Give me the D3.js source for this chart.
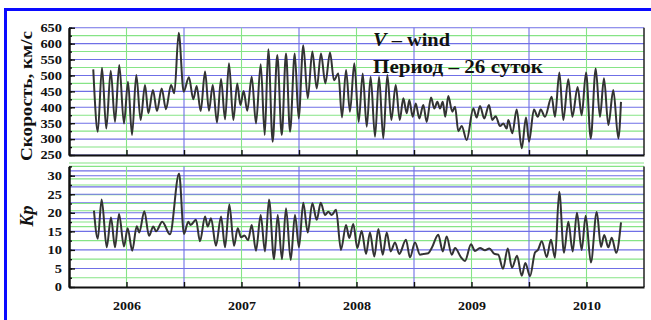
<!DOCTYPE html>
<html>
<head>
<meta charset="utf-8">
<script src="https://cdn.jsdelivr.net/npm/d3@7"></script>
<style>
  body { margin: 0; background: #fff; }
  svg { display: block; }
  text { font-family: "Liberation Serif", "Times New Roman", serif; font-weight: bold; fill: #111; }
</style>
</head>
<body>
<svg id="chart" width="651" height="320"></svg>
<script>
// Solar wind speed (km/s), smoothed with a 26-day period, sampled at turning points
const windTime = [
  2005.711, 2005.720, 2005.750, 2005.787, 2005.824, 2005.863, 2005.900, 2005.937, 2005.978, 2006.013,
  2006.048, 2006.085, 2006.123, 2006.161, 2006.190, 2006.230, 2006.265, 2006.306, 2006.343, 2006.387,
  2006.416, 2006.454, 2006.497, 2006.543, 2006.581, 2006.610, 2006.645, 2006.683, 2006.717, 2006.750,
  2006.787, 2006.822, 2006.857, 2006.891, 2006.929, 2006.963, 2006.990, 2007.019, 2007.050, 2007.089,
  2007.126, 2007.167, 2007.202, 2007.233, 2007.271, 2007.311, 2007.350, 2007.387, 2007.422, 2007.463,
  2007.497, 2007.537, 2007.576, 2007.616, 2007.654, 2007.691, 2007.729, 2007.770, 2007.804, 2007.842,
  2007.874, 2007.909, 2007.943, 2007.981, 2008.019, 2008.054, 2008.089, 2008.123, 2008.161, 2008.196,
  2008.233, 2008.268, 2008.303, 2008.341, 2008.376, 2008.407, 2008.437, 2008.459, 2008.489, 2008.515,
  2008.546, 2008.581, 2008.610, 2008.648, 2008.677, 2008.703, 2008.726, 2008.750, 2008.772, 2008.798,
  2008.833, 2008.857, 2008.885, 2008.915, 2008.958, 2009.016, 2009.045, 2009.074, 2009.111, 2009.152,
  2009.181, 2009.210, 2009.248, 2009.277, 2009.306, 2009.320, 2009.355, 2009.393, 2009.437, 2009.474,
  2009.500, 2009.543, 2009.576, 2009.602, 2009.639, 2009.697, 2009.726, 2009.764, 2009.798, 2009.842,
  2009.877, 2009.923, 2009.958, 2009.996, 2010.037, 2010.080, 2010.117, 2010.152, 2010.190, 2010.233,
  2010.277, 2010.300
];
const windSpeed = [
  519, 454, 323, 524, 333, 515, 354, 533, 349, 480,
  313, 501, 360, 470, 381, 454, 388, 459, 394, 470,
  444, 634, 449, 494, 425, 467, 388, 512, 389, 470,
  352, 489, 362, 538, 360, 475, 407, 451, 389, 496,
  349, 535, 313, 582, 292, 564, 313, 569, 323, 569,
  365, 595, 428, 575, 459, 569, 475, 572, 485, 506,
  368, 517, 386, 538, 354, 506, 339, 496, 307, 496,
  302, 501, 360, 470, 360, 428, 381, 423, 370, 412,
  365, 407, 354, 431, 396, 417, 396, 417, 370, 435,
  386, 402, 325, 341, 297, 396, 368, 404, 365, 407,
  360, 372, 341, 349, 333, 360, 318, 393, 271, 368,
  292, 393, 370, 393, 370, 433, 370, 509, 360, 488,
  370, 464, 375, 509, 302, 522, 370, 491, 344, 454,
  302, 417
];

// Kp index, same smoothing, sampled at turning points
const kpTime = [
  2005.717, 2005.750, 2005.784, 2005.828, 2005.865, 2005.900, 2005.935, 2005.978, 2006.010, 2006.050,
  2006.089, 2006.111, 2006.155, 2006.196, 2006.233, 2006.257, 2006.311, 2006.378, 2006.457, 2006.500,
  2006.537, 2006.558, 2006.604, 2006.639, 2006.683, 2006.706, 2006.735, 2006.778, 2006.822, 2006.857,
  2006.894, 2006.935, 2006.967, 2006.996, 2007.026, 2007.057, 2007.089, 2007.126, 2007.167, 2007.204,
  2007.239, 2007.283, 2007.315, 2007.352, 2007.387, 2007.428, 2007.465, 2007.500, 2007.537, 2007.576,
  2007.616, 2007.654, 2007.689, 2007.726, 2007.755, 2007.784, 2007.822, 2007.865, 2007.909, 2007.937,
  2007.972, 2008.007, 2008.045, 2008.083, 2008.117, 2008.155, 2008.190, 2008.228, 2008.263, 2008.297,
  2008.335, 2008.372, 2008.430, 2008.465, 2008.509, 2008.552, 2008.581, 2008.624, 2008.654, 2008.711,
  2008.750, 2008.784, 2008.828, 2008.857, 2008.909, 2008.943, 2008.996, 2009.030, 2009.074, 2009.117,
  2009.155, 2009.196, 2009.233, 2009.274, 2009.315, 2009.352, 2009.396, 2009.437, 2009.468, 2009.509,
  2009.552, 2009.578, 2009.611, 2009.654, 2009.691, 2009.726, 2009.763, 2009.804, 2009.842, 2009.880,
  2009.917, 2009.958, 2009.993, 2010.038, 2010.089, 2010.126, 2010.154, 2010.190, 2010.219, 2010.259,
  2010.300
];
const kpValue = [
  20.6, 13.0, 23.6, 10.7, 18.7, 10.7, 19.7, 10.9, 15.8, 9.8,
  16.4, 14.7, 20.4, 13.8, 16.3, 15.0, 17.6, 14.2, 30.6, 14.3,
  17.6, 16.7, 18.1, 12.3, 19.0, 16.3, 18.5, 11.1, 19.0, 10.7,
  22.2, 11.1, 15.8, 13.4, 13.9, 12.6, 16.7, 9.8, 19.4, 9.6,
  23.6, 7.5, 19.4, 7.5, 21.2, 7.3, 19.4, 10.7, 22.7, 14.7,
  22.6, 18.1, 22.7, 19.4, 20.3, 19.4, 20.8, 10.0, 16.7, 13.2,
  17.0, 10.5, 15.1, 8.9, 14.7, 8.2, 15.6, 8.7, 14.7, 9.6,
  12.0, 8.9, 12.7, 8.0, 12.0, 8.7, 8.9, 9.1, 10.5, 14.1,
  9.6, 13.6, 8.7, 10.5, 8.0, 7.0, 11.5, 9.7, 10.5, 9.9,
  10.4, 9.0, 8.7, 4.9, 10.4, 5.2, 8.4, 3.0, 6.5, 2.9,
  9.3, 10.0, 12.3, 8.1, 12.7, 7.9, 25.7, 9.2, 17.6, 9.6,
  20.0, 10.0, 19.2, 6.6, 20.2, 10.8, 14.0, 10.7, 13.3, 9.2,
  17.4
];

const years = [2006, 2007, 2008, 2009, 2010];
const speedTicks = [250, 300, 350, 400, 450, 500, 550, 600, 650];
const kpTicks = [0, 5, 10, 15, 20, 25, 30];

const svg = d3.select("#chart");
const W = 651, H = 320;

const BLUE_GRID = "#6f6fe6", GREEN_GRID = "#86e486";

const x = d3.scaleLinear().domain([2005.5, 2010.5]).range([69, 644]);
const yV = d3.scaleLinear().domain([250, 650]).range([155, 27.7]);
const yK = d3.scaleLinear().domain([0, 32.5]).range([287, 166.4]);

// page frame
svg.append("rect").attr("x", 4).attr("y", 8).attr("width", W - 4).attr("height", 3).attr("fill", "#0a0aff");
svg.append("rect").attr("x", 4).attr("y", 8).attr("width", 3).attr("height", H - 8).attr("fill", "#0a0aff");

const halfYears = d3.range(2006, 2010.01, 0.5);

function panel(y, hStep, hMinor, hMax) {
  const g = svg.append("g");
  const [y0, y1] = y.range();
  // horizontal grid
  const hv = d3.range(hMinor, hMax + 0.001, hMinor);
  g.selectAll("line.h").data(hv).join("line")
    .attr("x1", x.range()[0]).attr("x2", x.range()[1])
    .attr("y1", d => y(d)).attr("y2", d => y(d))
    .attr("stroke", d => (Math.abs((d - y.domain()[0]) % hStep) < 1e-6 ? BLUE_GRID : GREEN_GRID))
    .attr("stroke-width", 1.1);
  // vertical grid
  g.selectAll("line.v").data(halfYears).join("line")
    .attr("x1", d => x(d)).attr("x2", d => x(d))
    .attr("y1", y0).attr("y2", y1)
    .attr("stroke", d => (Number.isInteger(d) ? GREEN_GRID : BLUE_GRID))
    .attr("stroke-width", 1.1);
  // right border
  g.append("line").attr("x1", x.range()[1]).attr("x2", x.range()[1])
    .attr("y1", y0).attr("y2", y1).attr("stroke", "#222").attr("stroke-width", 1.5);
  return g;
}

const gTop = panel(yV, 50, 25, 650);
const gBot = panel(yK, 5, 2.5, 32.5);

function styleAxis(sel) {
  sel.select(".domain").attr("stroke", "#111").attr("stroke-width", 2);
  sel.selectAll(".tick line").attr("stroke", "#111").attr("stroke-width", 1.4);
}

// y axes (major + minor ticks, pointing inward)
function yAxes(y, ticks, minorStep) {
  const minor = d3.range(y.domain()[0], y.domain()[1] + 0.001, minorStep);
  svg.append("g").attr("transform", `translate(${x.range()[0]},0)`)
    .call(d3.axisLeft(y).tickValues(minor).tickSizeInner(-3).tickSizeOuter(0).tickFormat(""))
    .call(styleAxis);
  const a = svg.append("g").attr("transform", `translate(${x.range()[0]},0)`)
    .call(d3.axisLeft(y).tickValues(ticks).tickSizeInner(-6).tickSizeOuter(0).tickPadding(7))
    .call(styleAxis);
  a.selectAll(".tick text")
    .attr("font-size", 12).attr("fill", "#222")
    .attr("textLength", d => String(d).length * 7.2)
    .attr("lengthAdjust", "spacingAndGlyphs");
}
yAxes(yV, speedTicks, 25);
yAxes(yK, kpTicks, 2.5);

// x axes
svg.append("g").attr("transform", `translate(0,${yV.range()[0]})`)
  .call(d3.axisBottom(x).tickValues(halfYears).tickSizeInner(-5).tickSizeOuter(0).tickFormat(""))
  .call(styleAxis);
const xb = svg.append("g").attr("transform", `translate(0,${yK.range()[0]})`)
  .call(d3.axisBottom(x).tickValues(halfYears).tickSizeInner(-5).tickSizeOuter(0).tickPadding(14)
    .tickFormat(d => (years.includes(d) ? String(d) : "")))
  .call(styleAxis);
xb.selectAll(".tick text")
  .attr("font-size", 13).attr("fill", "#222")
  .filter(d => years.includes(d))
  .attr("textLength", 28).attr("lengthAdjust", "spacingAndGlyphs");

// series
const windPts = windTime.map((t, i) => ({ t, v: windSpeed[i] }));
const kpPts = kpTime.map((t, i) => ({ t, v: kpValue[i] }));

svg.append("path").datum(windPts)
  .attr("fill", "none").attr("stroke", "#333").attr("stroke-width", 2).attr("stroke-linejoin", "round")
  .attr("d", d3.line().x(d => x(d.t)).y(d => yV(d.v)).curve(d3.curveMonotoneX));
svg.append("path").datum(kpPts)
  .attr("fill", "none").attr("stroke", "#333").attr("stroke-width", 2).attr("stroke-linejoin", "round")
  .attr("d", d3.line().x(d => x(d.t)).y(d => yK(d.v)).curve(d3.curveMonotoneX));

// axis titles
svg.append("text")
  .attr("transform", "translate(32,96) rotate(-90)")
  .attr("text-anchor", "middle").attr("font-size", 17)
  .attr("textLength", 130).attr("lengthAdjust", "spacingAndGlyphs")
  .text("Скорость, км/с");
svg.append("text")
  .attr("transform", "translate(33,216) rotate(-90)")
  .attr("text-anchor", "middle").attr("font-size", 18).attr("font-style", "italic")
  .text("Kp");

// annotation
const ann1 = svg.append("text").attr("x", 373).attr("y", 46).attr("font-size", 18)
  .attr("textLength", 77).attr("lengthAdjust", "spacingAndGlyphs");
ann1.append("tspan").attr("font-style", "italic").text("V");
ann1.append("tspan").text(" – wind");
svg.append("text").attr("x", 373).attr("y", 73).attr("font-size", 18)
  .attr("textLength", 170).attr("lengthAdjust", "spacingAndGlyphs")
  .text("Период – 26 суток");
</script>
</body>
</html>
